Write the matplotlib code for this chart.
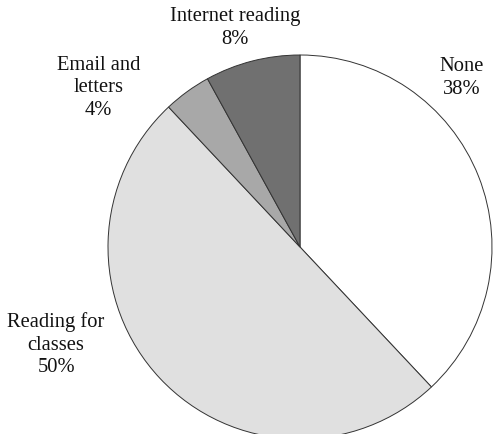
import matplotlib
matplotlib.use('Agg')
import matplotlib.pyplot as plt

labels = ['None', 'Reading for\nclasses', 'Email and\nletters', 'Internet reading']
shares = [38, 50, 4, 8]
colors = ['#ffffff', '#e0e0e0', '#a8a8a8', '#707070']

plt.rcParams['font.family'] = ['Liberation Serif', 'DejaVu Serif']

fig = plt.figure(figsize=(5.04, 4.34), dpi=100)
ax = fig.add_axes([108 / 504, -5 / 434, 384 / 504, 384 / 434])

ax.pie(shares, colors=colors, startangle=90, counterclock=False,
       wedgeprops=dict(edgecolor='#333333', linewidth=0.7))
ax.set_xlim(-1, 1)
ax.set_ylim(-1, 1)
ax.set_aspect('equal')

# label spots in data units (radius = 1)
label_pos = [(0.84, 0.88), (-1.27, -0.51), (-1.05, 0.83), (-0.34, 1.14)]
for lab, val, (x, y) in zip(labels, shares, label_pos):
    ax.text(x, y, f'{lab}\n{val}%', ha='center', va='center',
            fontsize=14.8, linespacing=1.25, clip_on=False, color='#111111')

fig.savefig('out.png', dpi=100)
